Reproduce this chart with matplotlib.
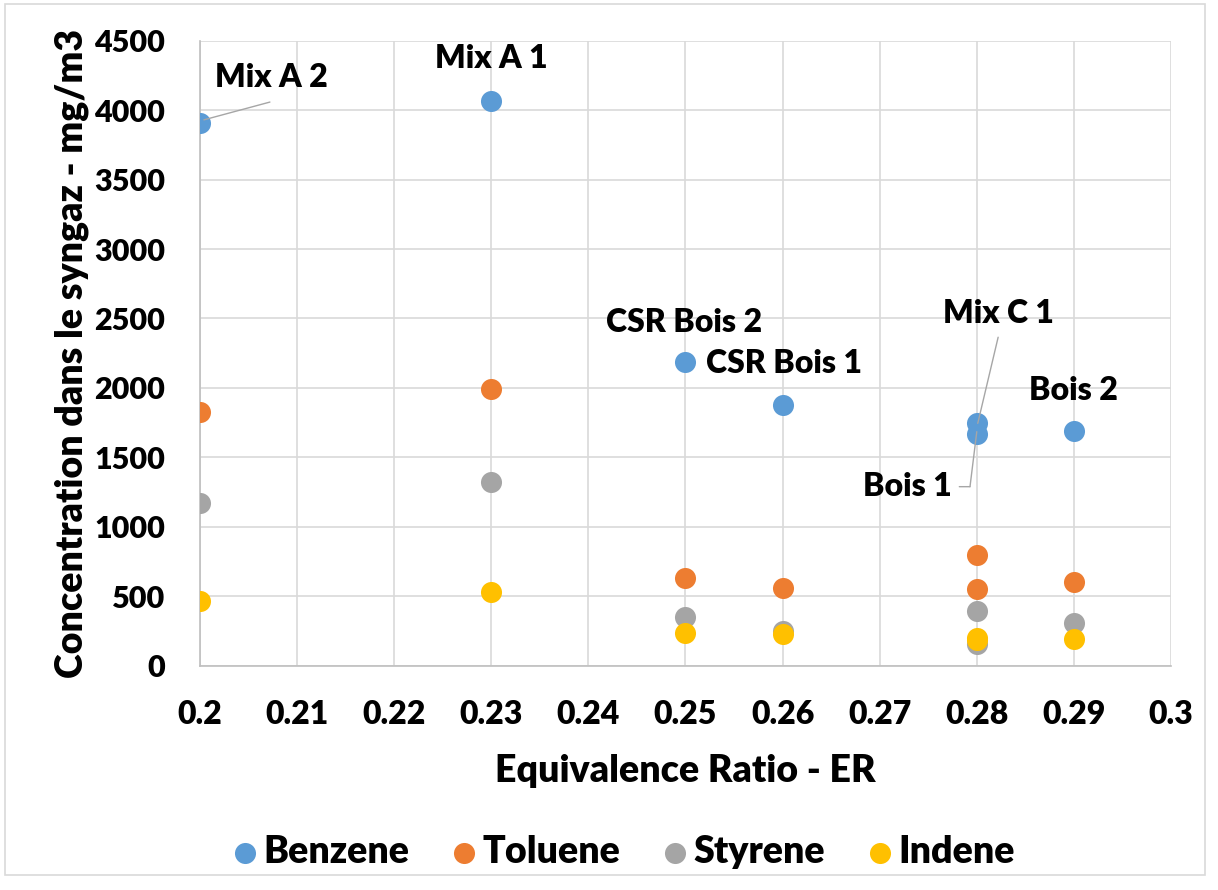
import matplotlib.pyplot as plt
from matplotlib.patches import Rectangle

plt.rcParams['font.family'] = ['Lato', 'DejaVu Sans']
plt.rcParams['font.weight'] = 'heavy'

# equivalence ratio of each run
er = [0.20, 0.23, 0.25, 0.26, 0.28, 0.28, 0.29]
runs = ["Mix A 2", "Mix A 1", "CSR Bois 2", "CSR Bois 1", "Mix C 1", "Bois 1", "Bois 2"]

# concentrations in mg/m3
benzene = [3910, 4065, 2190, 1875, 1745, 1665, 1690]
toluene = [1825, 1990, 630, 562, 795, 552, 605]
styrene = [1168, 1325, 350, 250, 396, 155, 305]
indene = [466, 528, 233, 228, 200, 188, 192]

series = [
    ("Benzene", benzene, "#5B9BD5"),
    ("Toluene", toluene, "#ED7D31"),
    ("Styrene", styrene, "#A5A5A5"),
    ("Indene", indene, "#FFC000"),
]

W = "heavy"
fig = plt.figure(figsize=(12.18, 8.9), dpi=100)
ax = fig.add_axes([0.1642, 0.252, 0.7972, 0.7023])

for name, vals, col in series:
    ax.scatter(er, vals, s=230, color=col, label=name, zorder=3, linewidths=0)

ax.set_xlim(0.2, 0.3)
ax.set_ylim(0, 4500)
ax.set_xticks([0.2 + 0.01 * i for i in range(11)])
ax.set_xticklabels(["0.2", "0.21", "0.22", "0.23", "0.24", "0.25",
                    "0.26", "0.27", "0.28", "0.29", "0.3"])
ax.set_yticks(range(0, 4501, 500))
ax.grid(True, color="#D9D9D9", linewidth=1.2, zorder=0)
ax.set_axisbelow(True)
for s in ["top", "right"]:
    ax.spines[s].set_visible(False)
for s in ["left", "bottom"]:
    ax.spines[s].set_color("#BFBFBF")
    ax.spines[s].set_linewidth(1.2)
ax.tick_params(axis="x", length=0, labelsize=23, pad=25)
ax.tick_params(axis="y", length=0, labelsize=22, pad=25)
for lab in ax.get_xticklabels() + ax.get_yticklabels():
    lab.set_fontweight(W)

ax.set_xlabel("Equivalence Ratio - ER", fontsize=27, fontweight=W, labelpad=18)
ax.set_ylabel("Concentration dans le syngaz - mg/m3", fontsize=27,
              fontweight=W, labelpad=4)

# run labels on the benzene points, some with leader lines
lab_kw = dict(fontsize=23, fontweight=W, ha="center", va="center")
line_kw = dict(arrowstyle="-", color="#A6A6A6", lw=1, shrinkA=0, shrinkB=0)
ax.text(0.2073, 4238, runs[0], **lab_kw)
ax.annotate("", xy=(er[0] + 0.0004, benzene[0] + 20), xytext=(0.2072, 4058),
            arrowprops=line_kw)
ax.text(er[1], 4375, runs[1], **lab_kw)
ax.text(0.2499, 2473, runs[2], **lab_kw)
ax.text(0.2521, 2178, runs[3], fontsize=23, fontweight=W, ha="left", va="center")
ax.text(0.2822, 2538, runs[4], **lab_kw)
ax.annotate("", xy=(0.2801, benzene[4]), xytext=(0.2822, 2365), arrowprops=line_kw)
ax.text(0.2729, 1289, runs[5], **lab_kw)
ax.annotate("", xy=(er[5], benzene[5] + 20), xytext=(0.2793, 1289), arrowprops=line_kw)
ax.annotate("", xy=(0.2793, 1289), xytext=(0.2782, 1289), arrowprops=line_kw)
ax.text(er[6], 1985, runs[6], **lab_kw)

leg = fig.legend(loc="center", bbox_to_anchor=(0.511, 0.043), ncol=4, frameon=False,
                 handlelength=0.8, handletextpad=0.1, columnspacing=1.05,
                 markerscale=1.0, prop={"size": 27, "weight": W})

fig.patches.append(Rectangle((0.004, 0.017), 0.985, 0.978, transform=fig.transFigure,
                             fill=False, edgecolor="#D9D9D9", linewidth=1.2))

fig.savefig("out.png", dpi=100)
